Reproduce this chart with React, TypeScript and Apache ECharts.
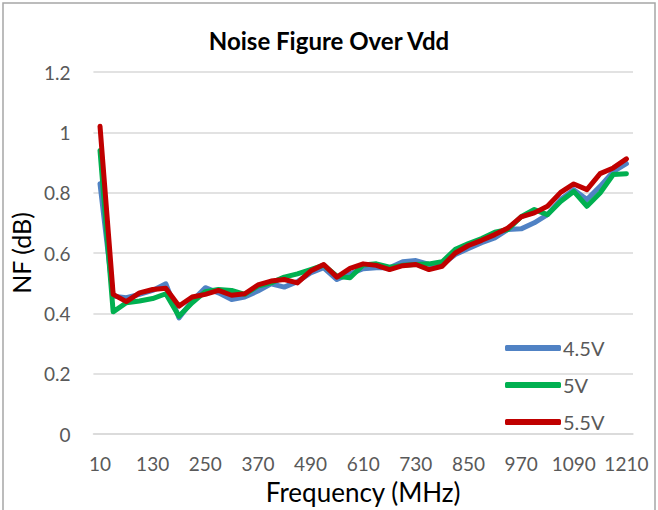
import React, { useEffect, useRef } from "react";
import * as echarts from "echarts";

const frequencies: string[] = [];
for (let f = 10; f <= 1210; f += 30) frequencies.push(String(f));

const nf45V = [
  0.83, 0.457, 0.452, 0.463, 0.476, 0.498, 0.385, 0.441, 0.485, 0.468,
  0.446, 0.454, 0.474, 0.498, 0.487, 0.505, 0.534, 0.551, 0.512, 0.531,
  0.548, 0.551, 0.551, 0.571, 0.575, 0.562, 0.562, 0.595, 0.615, 0.634,
  0.65, 0.678, 0.68, 0.7, 0.727, 0.777, 0.81, 0.777, 0.821, 0.87, 0.896,
];

const nf5V = [
  0.94, 0.405, 0.435, 0.441, 0.449, 0.465, 0.39, 0.435, 0.472, 0.479,
  0.476, 0.463, 0.49, 0.501, 0.52, 0.531, 0.545, 0.56, 0.523, 0.518,
  0.56, 0.564, 0.553, 0.559, 0.562, 0.564, 0.571, 0.612, 0.631, 0.648,
  0.669, 0.678, 0.72, 0.744, 0.727, 0.771, 0.804, 0.755, 0.799, 0.86, 0.863,
];

const nf55V = [
  1.02, 0.463, 0.439, 0.468, 0.479, 0.483, 0.424, 0.454, 0.463, 0.476,
  0.46, 0.465, 0.494, 0.507, 0.512, 0.501, 0.54, 0.562, 0.52, 0.549,
  0.564, 0.559, 0.545, 0.558, 0.562, 0.545, 0.556, 0.6, 0.625, 0.642,
  0.661, 0.683, 0.72, 0.733, 0.755, 0.801, 0.829, 0.81, 0.863, 0.882, 0.912,
];

const seriesNames = ["4.5V", "5V", "5.5V"];
const seriesColors = ["#5082C4", "#00B050", "#C00000"];

const FONT = "Lato, 'Open Sans', sans-serif";

export default function App() {
  const ref = useRef<HTMLDivElement>(null);
  useEffect(() => {
    if (!ref.current) return;
    const chart = echarts.init(ref.current, undefined, { renderer: "svg" });
    const data = [nf45V, nf5V, nf55V];
    chart.setOption({
      animation: false,
      backgroundColor: "#ffffff",
      textStyle: { fontFamily: FONT },
      title: {
        text: "Noise Figure Over Vdd",
        left: "center",
        top: 23,
        textStyle: { fontFamily: FONT, fontSize: 24, fontWeight: "bold", color: "#000000" },
      },
      graphic: [
        {
          type: "rect",
          shape: { x: 3, y: 3, width: 652, height: 530 },
          style: { fill: "none", stroke: "#a6a6a6", lineWidth: 1.5 },
          silent: true,
        },
      ],
      legend: {
        orient: "vertical",
        left: 500,
        top: 333,
        itemWidth: 56,
        itemHeight: 6,
        itemGap: 17,
        icon: "roundRect",
        data: seriesNames,
        textStyle: { fontFamily: FONT, fontSize: 20, color: "#595959", padding: [0, 0, 0, -3] },
      },
      grid: { left: 91, right: 25, top: 72, bottom: 75 },
      xAxis: {
        type: "category",
        data: frequencies,
        boundaryGap: true,
        name: "Frequency (MHz)",
        nameLocation: "middle",
        nameGap: 45,
        nameTextStyle: { fontFamily: FONT, fontSize: 26, color: "#000000" },
        axisLine: { show: true, lineStyle: { color: "#d9d9d9", width: 1.5 } },
        axisTick: { show: false },
        axisLabel: {
          interval: 3,
          margin: 20,
          fontFamily: FONT,
          fontSize: 19,
          color: "#595959",
        },
        splitLine: { show: false },
      },
      yAxis: {
        type: "value",
        min: 0,
        max: 1.2,
        interval: 0.2,
        name: "NF (dB)",
        nameLocation: "middle",
        nameGap: 52,
        nameTextStyle: { fontFamily: FONT, fontSize: 25, color: "#000000" },
        axisLine: { show: false },
        axisTick: { show: false },
        axisLabel: {
          margin: 23,
          fontFamily: FONT,
          fontSize: 19,
          color: "#595959",
          formatter: (v: number) => String(Math.round(v * 10) / 10),
        },
        splitLine: { show: true, lineStyle: { color: "#d9d9d9", width: 1.5 } },
      },
      series: seriesNames.map((name, i) => ({
        name,
        type: "line",
        data: data[i],
        symbol: "none",
        showSymbol: false,
        color: seriesColors[i],
        lineStyle: { width: 5, color: seriesColors[i], cap: "round", join: "round" },
        itemStyle: { color: seriesColors[i] },
        z: 2 + i,
      })),
    });
    return () => chart.dispose();
  }, []);
  return (
    <div
      ref={ref}
      style={{ position: "fixed", left: 0, top: 0, width: 658, height: 510 }}
    />
  );
}
